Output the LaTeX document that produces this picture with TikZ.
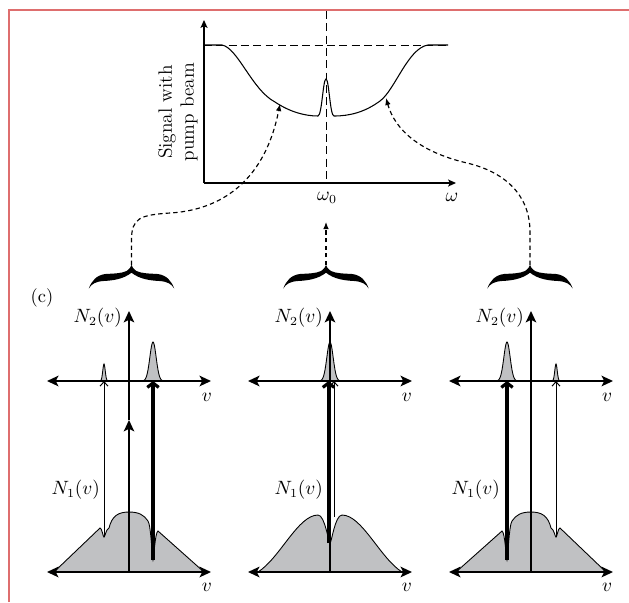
\documentclass[tikz,border=0pt]{standalone}
\usetikzlibrary{arrows.meta}

\definecolor{pageedge}{RGB}{222,110,110}
\definecolor{holegray}{RGB}{192,193,195}

\tikzset{
  plotaxis/.style={line width=0.8pt,-{Stealth[length=4.5pt,width=4pt,inset=1pt]}},
  freqaxis/.style={line width=1.1pt,{Stealth[length=6.5pt,width=6pt,inset=1.5pt]}-{Stealth[length=6.5pt,width=6pt,inset=1.5pt]}},
  popaxis/.style={line width=0.9pt,-{Stealth[length=6.5pt,width=6pt,inset=1.5pt]}},
  weakprobe/.style={line width=0.55pt,-{Straight Barb[length=2.5pt,width=4.5pt]}},
  strongpump/.style={line width=1.8pt,-{Straight Barb[length=2.5pt,width=6.5pt]}},
  guide/.style={line width=0.45pt,dash pattern=on 4.5pt off 2.5pt},
  link/.style={line width=0.65pt,dash pattern=on 2.5pt off 1.8pt,-{Latex[length=4pt,width=3.2pt]}},
  profile/.style={fill=holegray,draw=black,line width=0.5pt},
  lbl/.style={inner sep=1pt,font=\fontsize{10.5}{12}\selectfont}
}

% curly brace, tip at the origin
\newcommand\bracemark{%
  \fill (-42.7,23.5) .. controls (-40,16) and (-35,10) .. (-26,9)
    .. controls (-18,8.5) and (-10,8.5) .. (-5,6)
    .. controls (-2,4) and (-0.5,2) .. (0,0)
    .. controls (0.5,2) and (2,4) .. (5,6)
    .. controls (10,8.5) and (18,8.5) .. (26,9)
    .. controls (35,10) and (40,16) .. (42.7,23.5)
    .. controls (40,19) and (36,16.5) .. (28,16)
    .. controls (18,15.5) and (8,14) .. (0,7.7)
    .. controls (-8,14) and (-18,15.5) .. (-28,16)
    .. controls (-36,16.5) and (-40,19) .. cycle;
}

% burned profile and peaks of a side panel (mirrored for the right one)
\newcommand\sidefill{%
  \path[profile] (-75,0) -- (-29,-44) .. controls (-27,-44) and (-26,-35) .. (-25,-35)
    .. controls (-24,-35) and (-23,-43) .. (-20,-44)
    .. controls (-17,-56) and (-11,-60) .. (0,-60)
    .. controls (10,-60) and (15,-57) .. (19,-51)
    .. controls (22,-47) and (23.3,-12) .. (24,-12)
    .. controls (24.7,-12) and (26,-40) .. (29,-41) -- (75,0) -- cycle;
  \path[profile] plot[domain=-10:10,samples=41] ({24+\x},{-191-39*exp(-\x*\x/20)}) -- cycle;
  \path[profile] plot[domain=-4:4,samples=21] ({-25+\x},{-191-17*exp(-\x*\x/3)}) -- cycle;
}
\newcommand\sidearrows{%
  \draw[weakprobe] (-25,-35) -- (-25,-191);
  \draw[strongpump] (24,-12) -- (24,-191);
}

\begin{document}
\begin{tikzpicture}[x=0.2mm,y=-0.2mm]

\useasboundingbox (0,0) rectangle (629,602);

% page edge
\draw[pageedge,line width=1.2pt] (9,602) -- (9,10) -- (629,10);

%%%%%%%%%%%%%%%%%%%%%%%%%%%%%%%%%%%%%%%%%%%%%%%%%%%%%%
% SIGNAL PLOT
%%%%%%%%%%%%%%%%%%%%%%%%%%%%%%%%%%%%%%%%%%%%%%%%%%%%%%

\coordinate (origin) at (204,183);

\draw[guide] (326,11) -- (326,183);
\draw[guide] (204,45) -- (448,45);

\draw[line width=0.6pt]
(204,45) -- (222,45)
.. controls (238,48) and (252,90) .. (275,102)
.. controls (290,112) and (305,116) .. (318,116)
.. controls (322,115) and (323,79) .. (326,79)
.. controls (329,79) and (330,116) .. (334,116)
.. controls (350,116) and (365,112) .. (380,101)
.. controls (395,90) and (408,48) .. (428,45)
-- (448,45);

\draw[plotaxis] (origin) -- (204,20);
\draw[plotaxis] (origin) -- (456,183);

\node[rotate=90,align=center,font=\fontsize{11}{12.5}\selectfont]
(signal) at (178,112)
{Signal with\\pump beam};

\node[lbl] (w0) at (327,198) {$\omega_0$};
\node[lbl] (w) at (452,197) {$\omega$};

%%%%%%%%%%%%%%%%%%%%%%%%%%%%%%%%%%%%%%%%%%%%%%%%%%%%%%
% BRACES AND LINKS
%%%%%%%%%%%%%%%%%%%%%%%%%%%%%%%%%%%%%%%%%%%%%%%%%%%%%%

\coordinate (braceL) at (131.5,265);
\coordinate (braceM) at (326,265);
\coordinate (braceR) at (530,265);

\begin{scope}[shift={(braceL)}] \bracemark \end{scope}
\begin{scope}[shift={(braceM)}] \bracemark \end{scope}
\begin{scope}[shift={(braceR)}] \bracemark \end{scope}

\coordinate (hitL) at (280,104);
\coordinate (hitM) at (326,222);
\coordinate (hitR) at (386,98);

\draw[link] (braceL) -- (131.5,240)
.. controls (131.5,218) and (140,215) .. (170,213)
.. controls (205,211) and (262,195) .. (hitL);
\draw[link] (braceM) -- (hitM);
\draw[link] (braceR) -- (530,232)
.. controls (530,195) and (505,172) .. (467,163)
.. controls (420,152) and (395,130) .. (hitR);

\node[lbl] (panel) at (42,298) {(c)};

%%%%%%%%%%%%%%%%%%%%%%%%%%%%%%%%%%%%%%%%%%%%%%%%%%%%%%
% LEFT PANEL
%%%%%%%%%%%%%%%%%%%%%%%%%%%%%%%%%%%%%%%%%%%%%%%%%%%%%%

\begin{scope}[shift={(129,572)}]
\sidefill
\draw[freqaxis] (-82,0) -- (82,0);
\draw[freqaxis] (-82,-191) -- (82,-191);
\draw[popaxis] (0,0) -- (0,-152);
\draw[popaxis] (0,-152) -- (0,-261);
\sidearrows
\end{scope}

%%%%%%%%%%%%%%%%%%%%%%%%%%%%%%%%%%%%%%%%%%%%%%%%%%%%%%
% MIDDLE PANEL
%%%%%%%%%%%%%%%%%%%%%%%%%%%%%%%%%%%%%%%%%%%%%%%%%%%%%%

\begin{scope}[shift={(330,572)}]
\path[profile] (-72,0) .. controls (-50,-14) and (-32,-57) .. (-12,-57)
.. controls (-5,-57) and (-1.5,-29) .. (0,-29)
.. controls (1.5,-29) and (5,-57) .. (12,-57)
.. controls (32,-57) and (50,-14) .. (72,0) -- cycle;
\path[profile] plot[domain=-10:10,samples=41] ({\x},{-191-39*exp(-\x*\x/20)}) -- cycle;
\draw[freqaxis] (-82,0) -- (82,0);
\draw[freqaxis] (-82,-191) -- (82,-191);
\draw[popaxis] (0,0) -- (0,-261);
\draw[strongpump] (-1.5,-29) -- (-1.5,-191);
\draw[weakprobe] (4,-55) -- (4,-191);
\end{scope}

%%%%%%%%%%%%%%%%%%%%%%%%%%%%%%%%%%%%%%%%%%%%%%%%%%%%%%
% RIGHT PANEL
%%%%%%%%%%%%%%%%%%%%%%%%%%%%%%%%%%%%%%%%%%%%%%%%%%%%%%

\begin{scope}[shift={(531,572)}]
\begin{scope}[xscale=-1]
\sidefill
\end{scope}
\draw[freqaxis] (-82,0) -- (82,0);
\draw[freqaxis] (-82,-191) -- (82,-191);
\draw[popaxis] (0,0) -- (0,-261);
\begin{scope}[xscale=-1]
\sidearrows
\end{scope}
\end{scope}

%%%%%%%%%%%%%%%%%%%%%%%%%%%%%%%%%%%%%%%%%%%%%%%%%%%%%%
% LABELS
%%%%%%%%%%%%%%%%%%%%%%%%%%%%%%%%%%%%%%%%%%%%%%%%%%%%%%

\node[lbl,anchor=east] (n2L) at (124,318) {$N_2(v)$};
\node[lbl,anchor=east] (n2M) at (325,318) {$N_2(v)$};
\node[lbl,anchor=east] (n2R) at (526,318) {$N_2(v)$};

\node[lbl,anchor=east] (n1L) at (102,490) {$N_1(v)$};
\node[lbl,anchor=east] (n1M) at (325,490) {$N_1(v)$};
\node[lbl,anchor=east] (n1R) at (502,490) {$N_1(v)$};

\node[lbl] (vuL) at (207,397) {$v$};
\node[lbl] (vdL) at (207,587) {$v$};
\node[lbl] (vuM) at (407,397) {$v$};
\node[lbl] (vdM) at (407,587) {$v$};
\node[lbl] (vuR) at (607,397) {$v$};
\node[lbl] (vdR) at (607,587) {$v$};

\end{tikzpicture}
\end{document}
